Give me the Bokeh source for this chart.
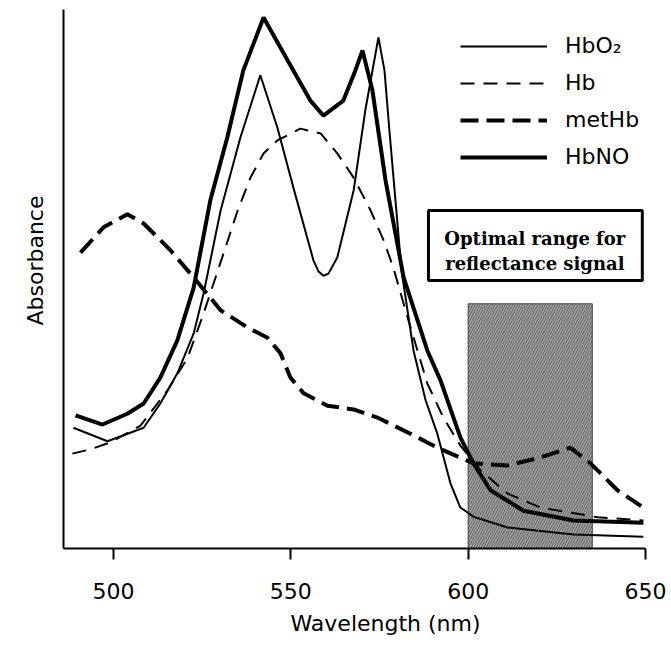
from bokeh.plotting import figure
from bokeh.models import Range1d, FixedTicker, Legend, LegendItem, BoxAnnotation, Label, Title
from bokeh.embed import file_html
from bokeh.resources import INLINE

# ---- data ----
hbno_wl = [489.3, 496.9, 503.9, 508.5, 513.2, 518.0, 522.6, 527.3, 532.1, 536.6, 542.3,
           550.7, 555.5, 559.2, 564.8, 568.2, 570.2, 573.0, 576.7, 581.8, 588.5, 592.2,
           597.8, 601.5, 606.3, 615.6, 629.7, 649.4]
hbno_abs = [24.7, 23.0, 25.0, 26.9, 31.7, 38.6, 48.4, 64.6, 76.3, 88.7, 98.5,
            88.7, 83.1, 80.3, 83.1, 88.7, 92.4, 85.0, 68.3, 50.3, 36.7, 31.2,
            20.6, 15.8, 10.8, 7.0, 5.2, 4.8]

hbo2_wl = [488.7, 498.3, 508.5, 513.2, 518.0, 522.6, 525.4, 530.2, 535.8, 541.4, 546.2,
           550.7, 556.4, 557.8, 559.2, 560.6, 563.1, 567.7, 571.0, 574.7, 576.4, 577.8,
           579.5, 581.2, 584.6, 588.0, 591.3, 595.0, 597.8, 601.5, 611.1, 629.7, 649.4]
hbo2_abs = [22.4, 19.9, 22.4, 26.9, 32.5, 39.9, 47.3, 62.7, 76.3, 87.8, 78.1,
            67.0, 53.4, 51.4, 50.6, 51.0, 54.0, 66.4, 81.3, 94.8, 88.7, 77.5,
            64.6, 51.6, 36.7, 27.5, 21.3, 12.1, 7.6, 5.9, 3.9, 2.6, 2.2]

hb_wl = [488.4, 493.5, 499.2, 507.6, 515.2, 520.9, 525.4, 531.0, 535.0, 538.6, 542.3,
         546.2, 552.7, 558.4, 563.1, 567.7, 572.5, 576.2, 578.9, 582.9, 588.5, 593.0,
         597.8, 603.5, 611.1, 620.4, 636.4, 649.4]
hb_abs = [17.6, 18.4, 19.7, 22.8, 29.3, 35.4, 43.6, 54.7, 62.7, 68.8, 73.3,
          75.7, 77.9, 77.0, 73.3, 68.8, 62.7, 57.1, 52.1, 42.9, 30.6, 24.3,
          19.1, 14.5, 10.2, 7.6, 5.8, 5.2]

methb_wl = [490.7, 497.2, 503.9, 508.5, 516.1, 522.6, 530.2, 537.8, 543.4, 547.1, 549.9,
            553.6, 560.3, 567.7, 574.4, 583.7, 591.3, 601.5, 611.1, 620.4, 628.8, 634.5,
            642.1, 649.4]
methb_abs = [54.9, 59.6, 62.0, 60.3, 55.3, 50.3, 44.2, 41.0, 39.1, 36.2, 31.7,
             28.8, 26.5, 25.8, 24.3, 21.3, 18.7, 15.8, 15.4, 16.9, 18.7, 15.8,
             10.8, 7.6]

x_ticks = [500, 550, 600, 650]
optimal_range = [600, 635]
optimal_top = 45.4
legend_labels = ["HbO\u2082", "Hb", "metHb", "HbNO"]
box_lines = ["Optimal range for", "reflectance signal"]
x_title = "Wavelength (nm)"
y_title = "Absorbance"

# ---- figure ----
p = figure(width=668, height=646, output_backend="svg", toolbar_location=None,
           x_range=Range1d(485.9, 650), y_range=Range1d(0, 100),
           min_border_left=63, min_border_right=23, min_border_top=9, min_border_bottom=98)
p.xgrid.visible = False
p.ygrid.visible = False
p.outline_line_color = None
p.background_fill_color = "white"

sans = "DejaVu Sans"

xa = p.xaxis[0]
xa.ticker = FixedTicker(ticks=x_ticks)
xa.axis_line_width = 2
xa.axis_line_color = "black"
xa.major_tick_line_width = 2
xa.major_tick_line_color = "black"
xa.major_tick_out = 11
xa.major_tick_in = 0
xa.minor_tick_line_color = None
xa.major_label_text_font = sans
xa.major_label_text_font_size = "22px"
xa.major_label_text_color = "black"
xa.major_label_standoff = 23

ya = p.yaxis[0]
ya.ticker = FixedTicker(ticks=[])
ya.axis_line_width = 2
ya.axis_line_color = "black"
ya.major_tick_out = 0
ya.major_tick_in = 0
ya.minor_tick_line_color = None
ya.major_label_text_font_size = "0px"

# axis titles placed off-centre as in the reference
p.add_layout(Title(text=x_title, align="left", offset=227, standoff=15,
                   text_font=sans, text_font_size="22px", text_font_style="normal",
                   text_color="black"), "below")
p.add_layout(Title(text=y_title, align="left", offset=223, standoff=32,
                   text_font=sans, text_font_size="22px", text_font_style="normal",
                   text_color="black"), "left")

# shaded optimal range
shade = BoxAnnotation(left=optimal_range[0], right=optimal_range[1], bottom=0, top=optimal_top,
                      fill_color="#a4a4a4", fill_alpha=1.0,
                      hatch_pattern="/", hatch_color="#5e5e5e", hatch_alpha=1.0,
                      hatch_scale=5, hatch_weight=1,
                      line_color="#444444", line_alpha=1.0, line_width=1, level="underlay")
p.add_layout(shade)

r_hbo2 = p.line(hbo2_wl, hbo2_abs, line_color="black", line_width=2)
r_hb = p.line(hb_wl, hb_abs, line_color="black", line_width=2, line_dash="14 9")
r_methb = p.line(methb_wl, methb_abs, line_color="black", line_width=4, line_dash="18 8")
r_hbno = p.line(hbno_wl, hbno_abs, line_color="black", line_width=4)

legend = Legend(items=[LegendItem(label=legend_labels[0], renderers=[r_hbo2]),
                       LegendItem(label=legend_labels[1], renderers=[r_hb]),
                       LegendItem(label=legend_labels[2], renderers=[r_methb]),
                       LegendItem(label=legend_labels[3], renderers=[r_hbno])],
                location=(397, 379), glyph_width=87, glyph_height=20, label_height=20,
                label_standoff=18, spacing=12, padding=0, margin=0,
                border_line_color=None, background_fill_alpha=0,
                label_text_font=sans, label_text_font_size="22px",
                label_text_color="black")
p.add_layout(legend)

# text box
box = BoxAnnotation(left=588.8, right=649.1, bottom=49.7, top=62.7,
                    fill_color="white", fill_alpha=1.0,
                    line_color="black", line_alpha=1.0, line_width=3)
p.add_layout(box)
for txt, yy in zip(box_lines, [57.5, 52.9]):
    p.add_layout(Label(x=618.8, y=yy, text=txt, text_align="center", text_baseline="alphabetic",
                       text_font="DejaVu Serif", text_font_style="bold",
                       text_font_size="18px", text_color="black"))

open("out.html", "w").write(file_html(p, INLINE))
